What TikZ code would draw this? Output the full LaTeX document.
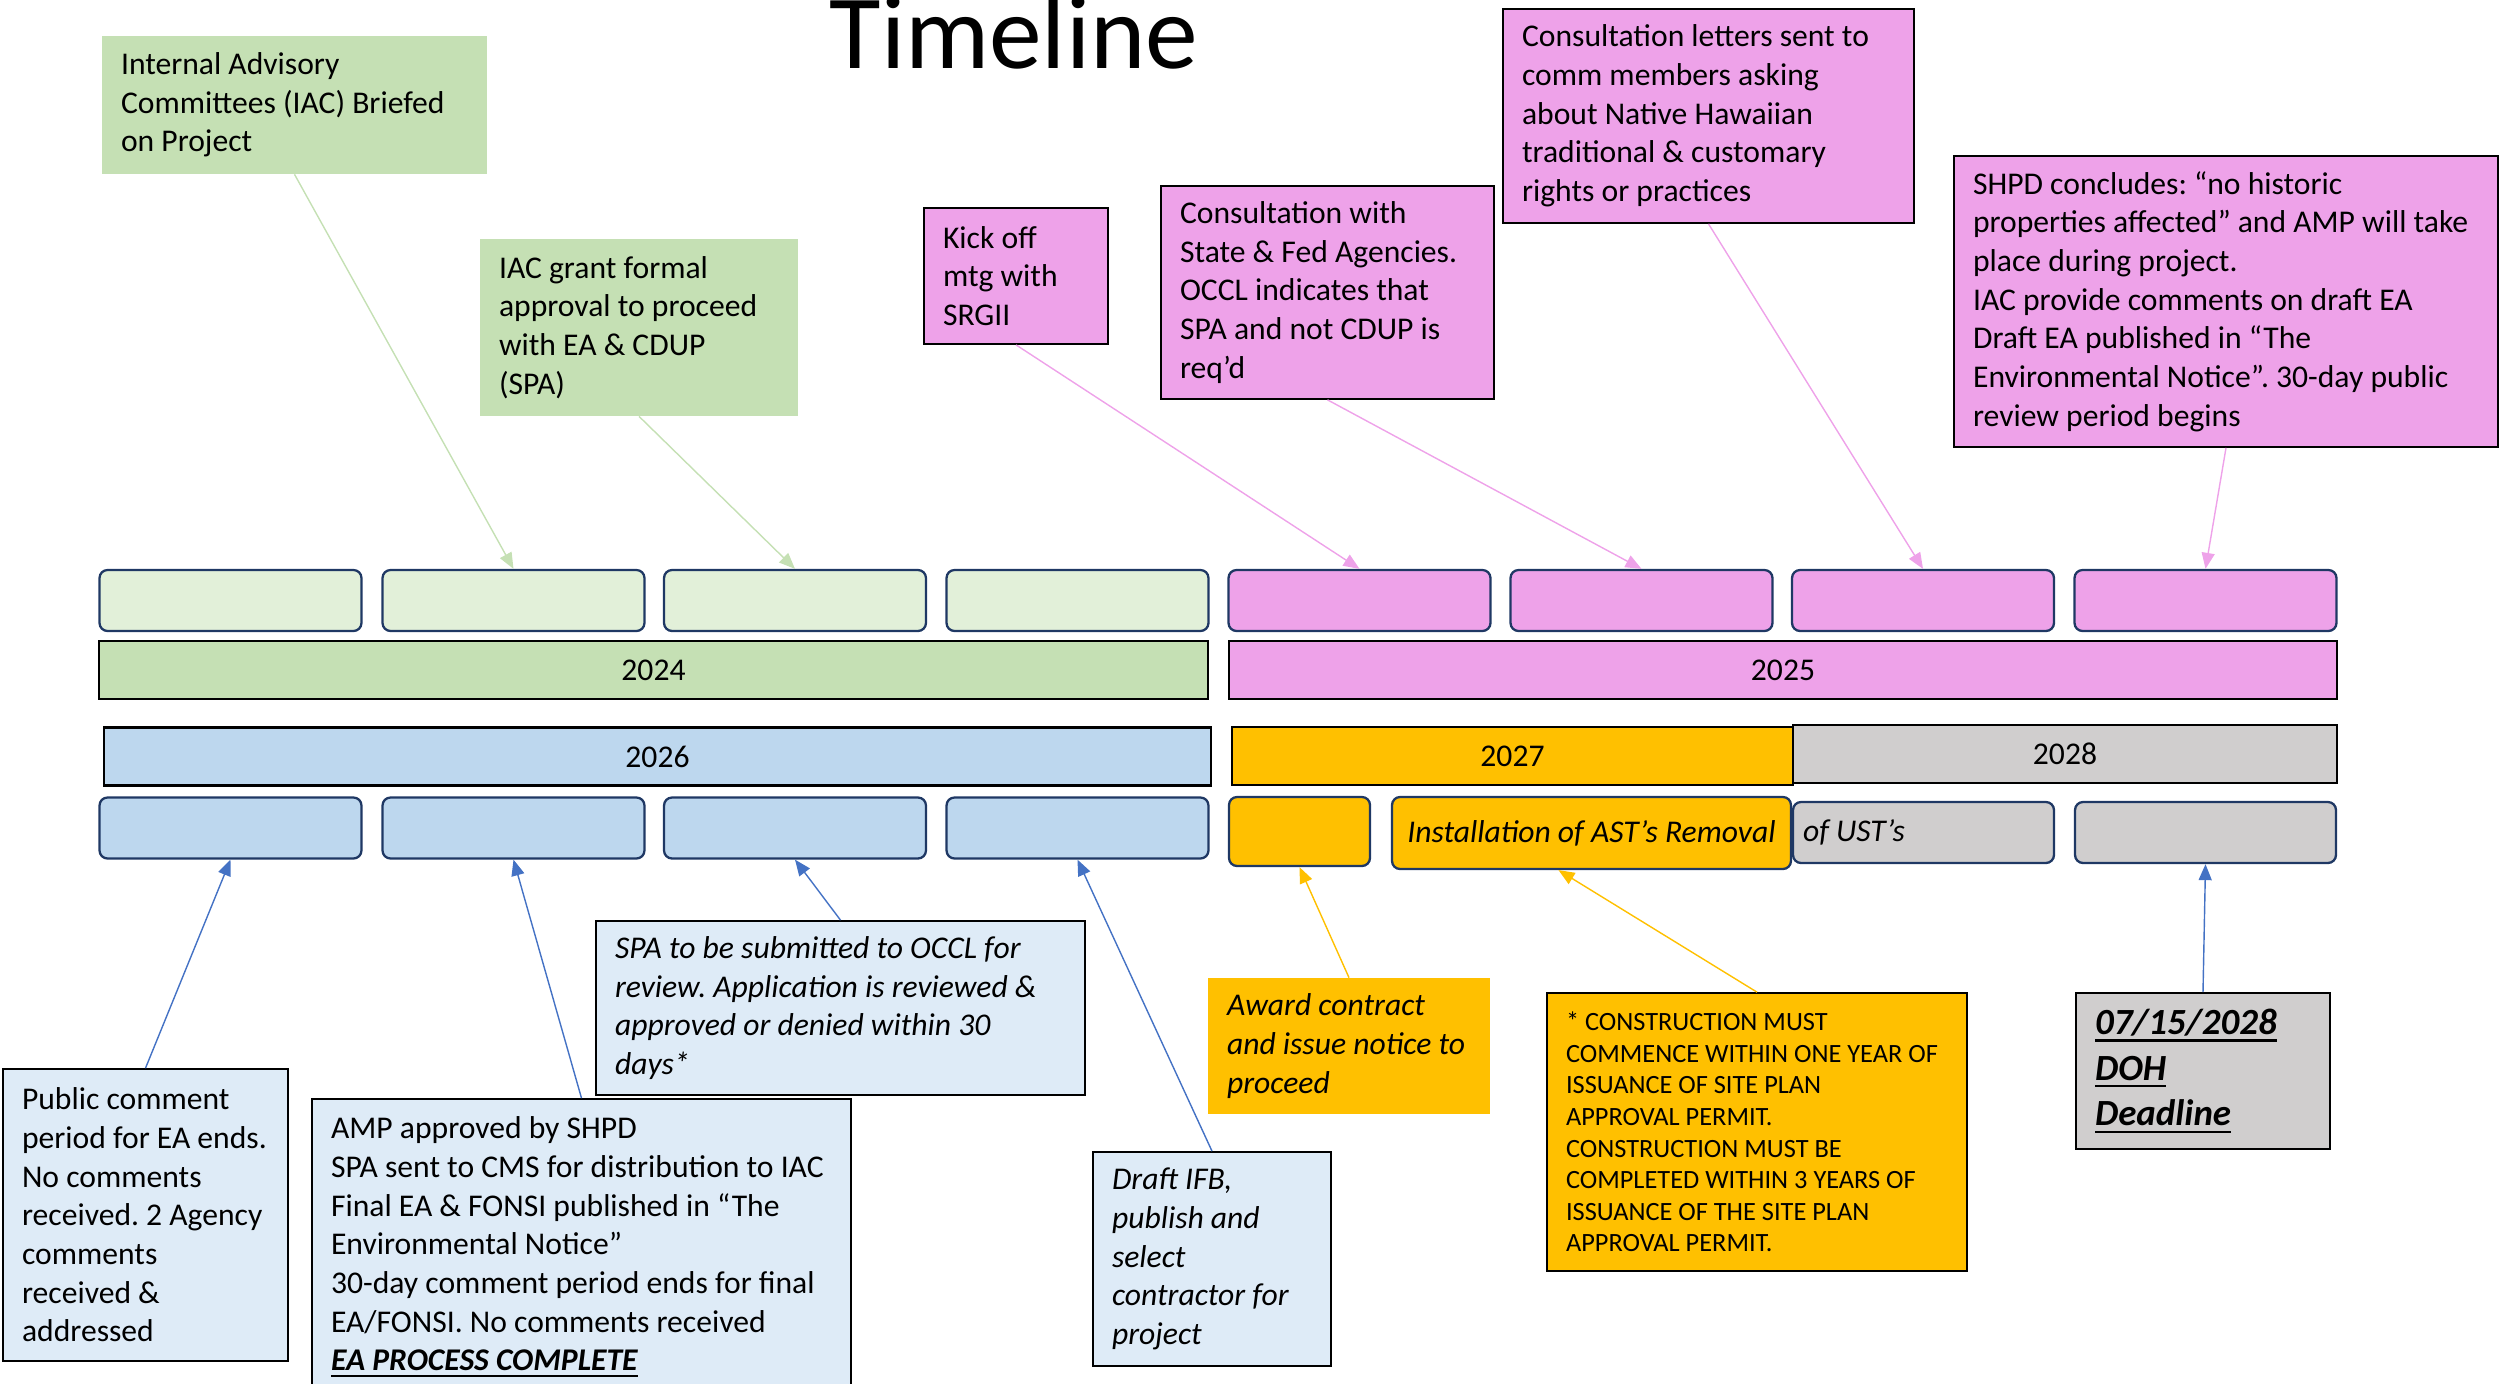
\documentclass[tikz,border=0pt]{standalone}
\usepackage{fontspec}
\setmainfont{Carlito}
\usetikzlibrary{arrows.meta}
\frenchspacing

\definecolor{ivygreen}{HTML}{C5E0B4}
\definecolor{palegreen}{HTML}{E2F0D9}
\definecolor{orchid}{HTML}{EEA2E9}
\definecolor{skyblue}{HTML}{BDD7EE}
\definecolor{paleblue}{HTML}{DEEBF7}
\definecolor{amber}{HTML}{FFC000}
\definecolor{stone}{HTML}{D0CECE}
\definecolor{navyline}{HTML}{1F3864}
\definecolor{arrowblue}{HTML}{4472C4}

% thick underline
\newsavebox{\ulbox}
\newcommand{\thickul}[1]{\leavevmode\sbox\ulbox{#1}%
    \rlap{\rule[-0.2em]{\wd\ulbox}{1.4pt}}\usebox\ulbox}

\tikzset{
    body/.style={font=\fontsize{18}{22}\selectfont},
    slant/.style={font=\fontsize{18}{22}\selectfont\itshape},
    slot/.style={draw=navyline,line width=1.3pt,rounded corners=0.16cm,
        minimum width=5.24cm,minimum height=1.22cm,inner sep=0pt},
    yearbar/.style={draw=black,line width=1.2pt,minimum height=1.16cm,inner sep=0pt},
    note/.style={align=flush left,inner xsep=0.38cm,inner ysep=0pt},
    framed/.style={note,draw=black,line width=1pt},
    lead/.style={line width=0.8pt,-{Triangle[length=0.32cm,width=0.26cm]}}
}

\begin{document}
\begin{tikzpicture}[x=0.02cm,y=-0.02cm,body]
                \useasboundingbox (0,0) rectangle (2509,1383);
                \clip (0,0) rectangle (2509,1383);
                \node[anchor=base,font=\fontsize{60}{72}\selectfont] (title)
                    at (1014,68) {Timeline};
                % upper row: 2024 and 2025
                \foreach \i/\x in {1/230.5,2/513.5,3/795,4/1077.5}
                    \node[slot,fill=palegreen] (t\i) at (\x,600.5) {};
                \foreach \i/\x in {5/1359.5,6/1641.5,7/1923,8/2205.5}
                    \node[slot,fill=orchid] (t\i) at (\x,600.5) {};
                \node[yearbar,fill=ivygreen,minimum width=22.18cm] (y2024)
                    at (653.5,670) {2024};
                \node[yearbar,fill=orchid,minimum width=22.16cm] (y2025)
                    at (1783,670) {2025};
                % lower row: 2026 to 2028
                \node[yearbar,fill=skyblue,minimum width=22.14cm] (y2026)
                    at (657.5,756.5) {2026};
                \node[yearbar,fill=stone,minimum width=10.88cm] (y2028)
                    at (2065,754) {2028};
                \node[yearbar,fill=amber,minimum width=11.22cm] (y2027)
                    at (1512.5,756) {2027};
                \foreach \i/\x in {1/230.5,2/513.5,3/795,4/1077.5}
                    \node[slot,fill=skyblue] (b\i) at (\x,828) {};
                \node[slot,fill=amber,minimum width=2.82cm,minimum height=1.38cm] (b5)
                    at (1299.5,831.5) {};
                \node[slot,fill=stone,minimum width=5.22cm,text width=4.82cm,
                    inner xsep=0.2cm,align=flush left,slant] (b7)
                    at (1923.5,832.5) {of UST’s};
                \node[slot,fill=stone,minimum width=5.22cm] (b8)
                    at (2205.5,832.5) {};
                \node[slot,fill=amber,minimum width=7.98cm,minimum height=1.44cm,slant] (b6)
                    at (1591.5,833) {Installation of AST’s Removal};
                % notes above
                \node[note,fill=ivygreen,text width=6.94cm,minimum height=2.76cm] (brief)
                    at (294.5,105) {Internal Advisory\\Committees (IAC) Briefed\\on Project};
                \node[note,fill=ivygreen,text width=5.6cm,minimum height=3.54cm] (grant)
                    at (639,327.5) {IAC grant formal\\approval to proceed\\with EA \& CDUP\\(SPA)};
                \node[framed,fill=orchid,text width=2.92cm,minimum height=2.72cm] (kickoff)
                    at (1016,276) {Kick off\\mtg with\\SRGII};
                \node[framed,fill=orchid,text width=5.9cm,minimum height=4.26cm] (consult)
                    at (1327.5,292.5) {Consultation with\\State \& Fed Agencies.\\OCCL indicates that\\SPA and not CDUP is\\req’d};
                \node[framed,fill=orchid,text width=7.46cm,minimum height=4.28cm] (letters)
                    at (1708.5,116) {Consultation letters sent to\\comm members asking\\about Native Hawaiian\\traditional \& customary\\rights or practices};
                \node[framed,fill=orchid,text width=10.12cm,minimum height=5.82cm] (shpd)
                    at (2226,301.5) {SHPD concludes: “no historic\\properties affected” and AMP will take\\place during project.\\IAC provide comments on draft EA\\Draft EA published in “The\\Environmental Notice”. 30-day public\\review period begins};
                % notes below
                \node[framed,fill=paleblue,text width=4.94cm,minimum height=5.84cm] (pubcom)
                    at (145.5,1215) {Public comment\\period for EA ends.\\No comments\\received. 2 Agency\\comments\\received \&\\addressed};
                \node[framed,fill=paleblue,text width=10.02cm,minimum height=5.92cm] (amp)
                    at (581.5,1247) {AMP approved by SHPD\\SPA sent to CMS for distribution to IAC\\Final EA \& FONSI published in “The\\Environmental Notice”\\30-day comment period ends for final\\EA/FONSI. No comments received\\\textbf{\textit{\thickul{EA PROCESS COMPLETE}}}};
                \node[framed,fill=paleblue,text width=9.02cm,minimum height=3.48cm,slant] (spa)
                    at (840.5,1008) {SPA to be submitted to OCCL for\\review. Application is reviewed \&\\approved or denied within 30\\days*};
                \node[framed,fill=paleblue,text width=4.0cm,minimum height=4.28cm,slant] (ifb)
                    at (1212,1259) {Draft IFB,\\publish and\\select\\contractor for\\project};
                \node[note,fill=amber,text width=4.88cm,minimum height=2.72cm,slant] (award)
                    at (1349,1046) {Award contract\\and issue notice to\\proceed};
                \node[framed,fill=amber,text width=7.64cm,minimum height=5.56cm,
                    font=\fontsize{15}{18}\selectfont] (permit)
                    at (1757,1132) {* CONSTRUCTION MUST\\COMMENCE WITHIN ONE YEAR OF\\ISSUANCE OF SITE PLAN\\APPROVAL PERMIT.\\CONSTRUCTION MUST BE\\COMPLETED WITHIN 3 YEARS OF\\ISSUANCE OF THE SITE PLAN\\APPROVAL PERMIT.};
                \node[framed,fill=stone,text width=4.32cm,minimum height=3.12cm,
                    font=\fontsize{21}{26}\selectfont\bfseries\itshape] (doh)
                    at (2203,1071) {\thickul{07/15/2028}\\\thickul{DOH}\\\thickul{Deadline}};
                % leaders
                \draw[lead,ivygreen] (brief.south) -- (t2.north);
                \draw[lead,ivygreen] (grant.south) -- (t3.north);
                \draw[lead,orchid] (kickoff.south) -- (t5.north);
                \draw[lead,orchid] (consult.south) -- (t6.north);
                \draw[lead,orchid] (letters.south) -- (t7.north);
                \draw[lead,orchid] (shpd.south) -- (t8.north);
                \draw[lead,arrowblue] (pubcom.north) -- (b1.south);
                \draw[lead,arrowblue] (amp.north) -- (b2.south);
                \draw[lead,arrowblue] (spa.north) -- (b3.south);
                \draw[lead,arrowblue] (ifb.north) -- (b4.south);
                \draw[lead,amber] (award.north) -- (b5.south);
                \draw[lead,amber] (permit.north) -- ([xshift=-0.66cm]b6.south);
                \draw[lead,arrowblue] (doh.north) -- (b8.south);
            \end{tikzpicture}
\end{document}
